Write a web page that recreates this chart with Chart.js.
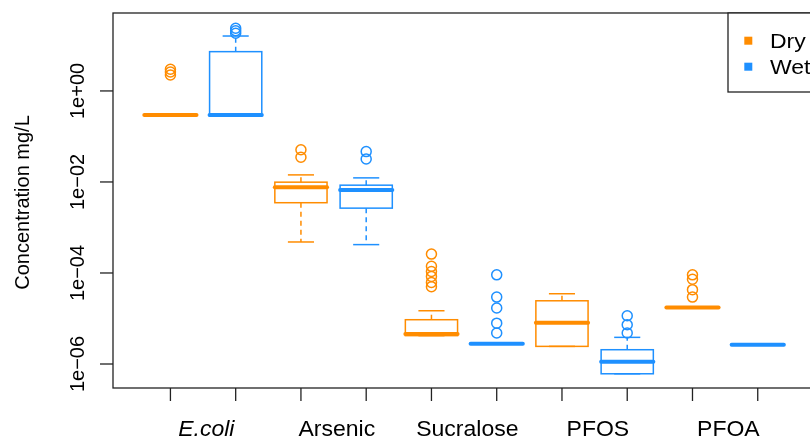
<!DOCTYPE html>
<html>
<head>
<meta charset="utf-8">
<script src="https://cdn.jsdelivr.net/npm/chart.js@4/dist/chart.umd.min.js"></script>
<style>
    body { margin: 0; background: #fff; }
    #wrap { width: 810px; height: 439px; overflow: hidden; }
</style>
</head>
<body>
<div id="wrap"><canvas id="myChart" width="840" height="439"></canvas></div>
<script>
// categories and groups
const categories = ['E.coli', 'Arsenic', 'Sucralose', 'PFOS', 'PFOA'];
const groups = ['Dry', 'Wet'];
const groupColors = ['#FF8C00', '#1E90FF'];
const yTicks = [1e-6, 1e-4, 1e-2, 1];
const yTickLabels = ['1e\u221206', '1e\u221204', '1e\u221202', '1e+00'];

// box summaries (mg/L)
const dryLow    = [0.297, 0.00048, 4.2e-6,  2.44e-6, 1.75e-5];
const dryQ1     = [0.297, 0.0035,  4.2e-6,  2.44e-6, 1.75e-5];
const dryMedian = [0.297, 0.0077,  4.55e-6, 8.1e-6,  1.75e-5];
const dryQ3     = [0.297, 0.0099,  9.4e-6,  2.45e-5, 1.75e-5];
const dryHigh   = [0.297, 0.0143,  1.48e-5, 3.5e-5,  1.75e-5];
const dryOutliers = [
    [2.25, 2.6, 3.0],
    [0.035, 0.051],
    [5e-5, 6.2e-5, 8.4e-5, 1.08e-4, 1.4e-4, 2.6e-4],
    [],
    [2.95e-5, 4.3e-5, 7.3e-5, 9.1e-5]
];

const wetLow    = [0.282, 0.00042, 2.8e-6, 6.1e-7,  2.65e-6];
const wetQ1     = [0.282, 0.00266, 2.8e-6, 6.1e-7,  2.65e-6];
const wetMedian = [0.297, 0.0067,  2.8e-6, 1.12e-6, 2.65e-6];
const wetQ3     = [7.3,   0.0085,  2.8e-6, 2.06e-6, 2.65e-6];
const wetHigh   = [16.1,  0.0123,  2.8e-6, 3.85e-6, 2.65e-6];
const wetOutliers = [
    [18.5, 21, 23.8],
    [0.032, 0.0465],
    [4.8e-6, 7.9e-6, 1.7e-5, 2.95e-5, 9.1e-5],
    [4.8e-6, 7.3e-6, 1.15e-5],
    []
];

const series = [
    { low: dryLow, q1: dryQ1, med: dryMedian, q3: dryQ3, high: dryHigh, out: dryOutliers },
    { low: wetLow, q1: wetQ1, med: wetMedian, q3: wetQ3, high: wetHigh, out: wetOutliers }
];

const FONT = '"Liberation Sans", Arial, Helvetica, sans-serif';

// position of a box on the x scale: 1..10
function boxPos(i, g) { return 2 * i + g + 1; }

function line(ctx, x1, y1, x2, y2) {
    ctx.beginPath();
    ctx.moveTo(x1, y1);
    ctx.lineTo(x2, y2);
    ctx.stroke();
}

// the reference text is a little wider than it is tall
function wideText(ctx, text, x, y, stretch) {
    ctx.save();
    ctx.translate(x, y);
    ctx.scale(stretch, 1);
    ctx.fillText(text, 0, 0);
    ctx.restore();
}

const boxPlot = {
    id: 'boxPlot',
    beforeDatasetsDraw(chart) {
        const { ctx, scales: { x, y } } = chart;
        const unit = x.getPixelForValue(1) - x.getPixelForValue(0);
        const half = unit * 0.4;
        const cap = unit * 0.2;
        series.forEach((s, g) => {
            ctx.save();
            ctx.strokeStyle = groupColors[g];
            categories.forEach((c, i) => {
                const cx = x.getPixelForValue(boxPos(i, g));
                const pLow = y.getPixelForValue(s.low[i]);
                const pQ1 = y.getPixelForValue(s.q1[i]);
                const pMed = y.getPixelForValue(s.med[i]);
                const pQ3 = y.getPixelForValue(s.q3[i]);
                const pHigh = y.getPixelForValue(s.high[i]);

                ctx.lineWidth = 1.5;
                ctx.setLineDash([5, 4]);
                if (pHigh < pQ3) line(ctx, cx, pQ3, cx, pHigh);
                if (pLow > pQ1) line(ctx, cx, pQ1, cx, pLow);
                ctx.setLineDash([]);
                line(ctx, cx - cap, pHigh, cx + cap, pHigh);
                line(ctx, cx - cap, pLow, cx + cap, pLow);
                ctx.strokeRect(cx - half, pQ3, half * 2, pQ1 - pQ3);

                ctx.lineWidth = 4;
                ctx.lineCap = 'round';
                line(ctx, cx - half, pMed, cx + half, pMed);
                ctx.lineCap = 'butt';
            });
            ctx.restore();
        });
    },
    afterDraw(chart) {
        const { ctx, chartArea: a, scales: { x, y } } = chart;
        ctx.save();
        ctx.strokeStyle = '#222';
        ctx.fillStyle = '#000';
        ctx.lineWidth = 1.3;
        ctx.strokeRect(a.left, a.top, a.right - a.left, a.bottom - a.top);

        // y axis
        ctx.font = '20px ' + FONT;
        ctx.textAlign = 'center';
        ctx.textBaseline = 'alphabetic';
        yTicks.forEach((v, k) => {
            const py = y.getPixelForValue(v);
            line(ctx, a.left - 13, py, a.left, py);
            ctx.save();
            ctx.translate(a.left - 29, py);
            ctx.rotate(-Math.PI / 2);
            ctx.fillText(yTickLabels[k], 0, 0);
            ctx.restore();
        });
        ctx.save();
        ctx.translate(28.5, (a.top + a.bottom) / 2 + 2);
        ctx.rotate(-Math.PI / 2);
        ctx.fillText('Concentration mg/L', 0, 0);
        ctx.restore();

        // x axis
        for (let p = 1; p <= categories.length * 2; p++) {
            const px = x.getPixelForValue(p);
            line(ctx, px, a.bottom, px, a.bottom + 13);
        }
        categories.forEach((c, i) => {
            ctx.font = (i === 0 ? 'italic ' : '') + '21.5px ' + FONT;
            wideText(ctx, c, x.getPixelForValue(2 * i + 1.55), a.bottom + 48, 1.07);
        });

        // legend, top right
        const lx = a.right - 95;
        ctx.fillStyle = '#fff';
        ctx.fillRect(lx, a.top, a.right - lx, 79);
        ctx.strokeRect(lx, a.top, a.right - lx, 79);
        ctx.font = '20px ' + FONT;
        ctx.textAlign = 'left';
        groups.forEach((gName, g) => {
            const cy = a.top + 27.7 + g * 26;
            ctx.fillStyle = groupColors[g];
            ctx.fillRect(lx + 16.3, cy - 4, 8, 8);
            ctx.fillStyle = '#000';
            wideText(ctx, gName, lx + 42, cy + 7, 1.15);
        });
        ctx.restore();
    }
};

const outlierSets = series.map((s, g) => ({
    label: groups[g],
    data: s.out.flatMap((vals, i) => vals.map(v => ({ x: boxPos(i, g), y: v }))),
    pointStyle: 'circle',
    pointRadius: 5,
    pointBorderWidth: 1.5,
    borderColor: groupColors[g],
    backgroundColor: 'rgba(0,0,0,0)',
    showLine: false
}));

const chartCtx = document.getElementById('myChart');

new Chart(chartCtx, {
    type: 'scatter',
    data: { datasets: outlierSets },
    options: {
        responsive: false,
        animation: false,
        devicePixelRatio: 1,
        layout: { padding: { left: 113, top: 13, right: 17, bottom: 51 } },
        plugins: {
            legend: { display: false },
            tooltip: { enabled: false }
        },
        scales: {
            x: { type: 'linear', min: 0.12, max: 11.0, display: false },
            y: { type: 'logarithmic', min: 2.97e-7, max: 51.6, display: false }
        }
    },
    plugins: [boxPlot]
});
</script>
</body>
</html>
